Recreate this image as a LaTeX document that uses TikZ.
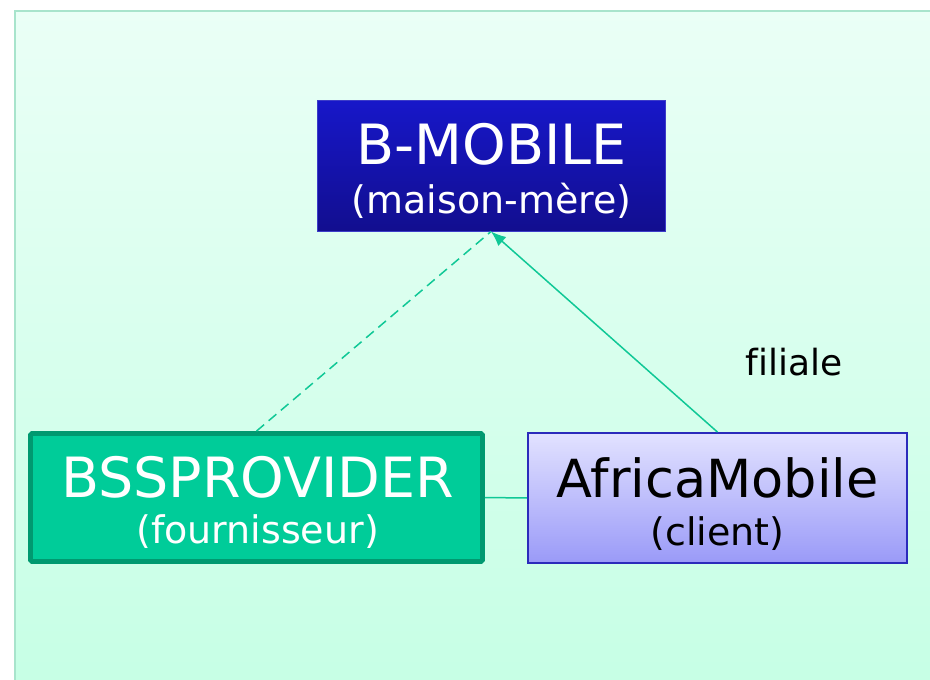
\documentclass[tikz,border=0pt]{standalone}
\usepackage{fontspec}
\setmainfont[Ligatures=NoCommon]{DejaVu Sans}
\usetikzlibrary{arrows.meta}
\definecolor{panelborder}{HTML}{A8E4CC}
\definecolor{paneltop}{HTML}{EAFFF6}
\definecolor{panelbot}{HTML}{C6FFE5}
\definecolor{bluetop}{HTML}{1717C9}
\definecolor{bluebot}{HTML}{120E8F}
\definecolor{blueedge}{HTML}{3C3CC8}
\definecolor{greenfill}{HTML}{00CC99}
\definecolor{greenedge}{HTML}{009970}
\definecolor{lavtop}{HTML}{E2E2FF}
\definecolor{lavbot}{HTML}{9A9AF8}
\definecolor{lavedge}{HTML}{2B2BBB}
\definecolor{linkgreen}{HTML}{10C896}
\tikzset{
  boxbase/.style={rectangle, inner sep=0pt},
  parentbox/.style={boxbase, draw=blueedge, line width=1pt, top color=bluetop, bottom color=bluebot,
    minimum width=348pt, minimum height=131pt},
  supplierbox/.style={boxbase, draw=greenedge, line width=4.8pt, fill=greenfill, rounded corners=1.5pt,
    minimum width=452pt, minimum height=128pt},
  clientbox/.style={boxbase, draw=lavedge, line width=1.8pt, top color=lavtop, bottom color=lavbot,
    minimum width=379pt, minimum height=130pt},
  bigtext/.style={anchor=base, inner sep=0pt, font=\fontsize{55.5}{60}\selectfont},
  smalltext/.style={anchor=base, inner sep=0pt, font=\fontsize{38}{44}\selectfont},
  link/.style={draw=linkgreen, line width=1.5pt},
}
\begin{document}
\begin{tikzpicture}[x=1pt,y=-1pt]
\useasboundingbox (0,0) rectangle (930,680);
% panel
\begin{scope}
\clip (0,0) rectangle (930,680);
\path[draw=panelborder, line width=2.4pt, top color=paneltop, bottom color=panelbot]
  (15,11) rectangle (940,690);
\end{scope}
% boxes
\node[parentbox] (bm) at (491,165.5) {};
\node[supplierbox] (bss) at (256.5,497.5) {};
\node[clientbox] (am) at (717.5,498) {};
% texts
\node[bigtext, white] (bmt) at (491.5,164) {B-MOBILE};
\node[smalltext, white] (bms) at (491.5,213) {(maison-mère)};
\node[bigtext, white] (bsst) at (257.5,497) {BSSPROVIDER};
\node[smalltext, white] (bsss) at (257.5,543.5) {(fournisseur)};
\node[bigtext, black, font=\fontsize{52.5}{60}\selectfont] (amt) at (717.5,497) {AfricaMobile};
\node[smalltext, black] (ams) at (717.5,545) {(client)};
\node[anchor=base, inner sep=0pt, font=\fontsize{36}{42}\selectfont, black] (fil) at (794,375) {filiale};
% connectors
\draw[link, dash pattern=on 10pt off 6pt] (bss.north) -- (bm.south);
\draw[link, -{Latex[length=15pt,width=12pt]}] (am.north) -- (bm.south);
\draw[link] (bss.east) -- (am.west);
\end{tikzpicture}
\end{document}
